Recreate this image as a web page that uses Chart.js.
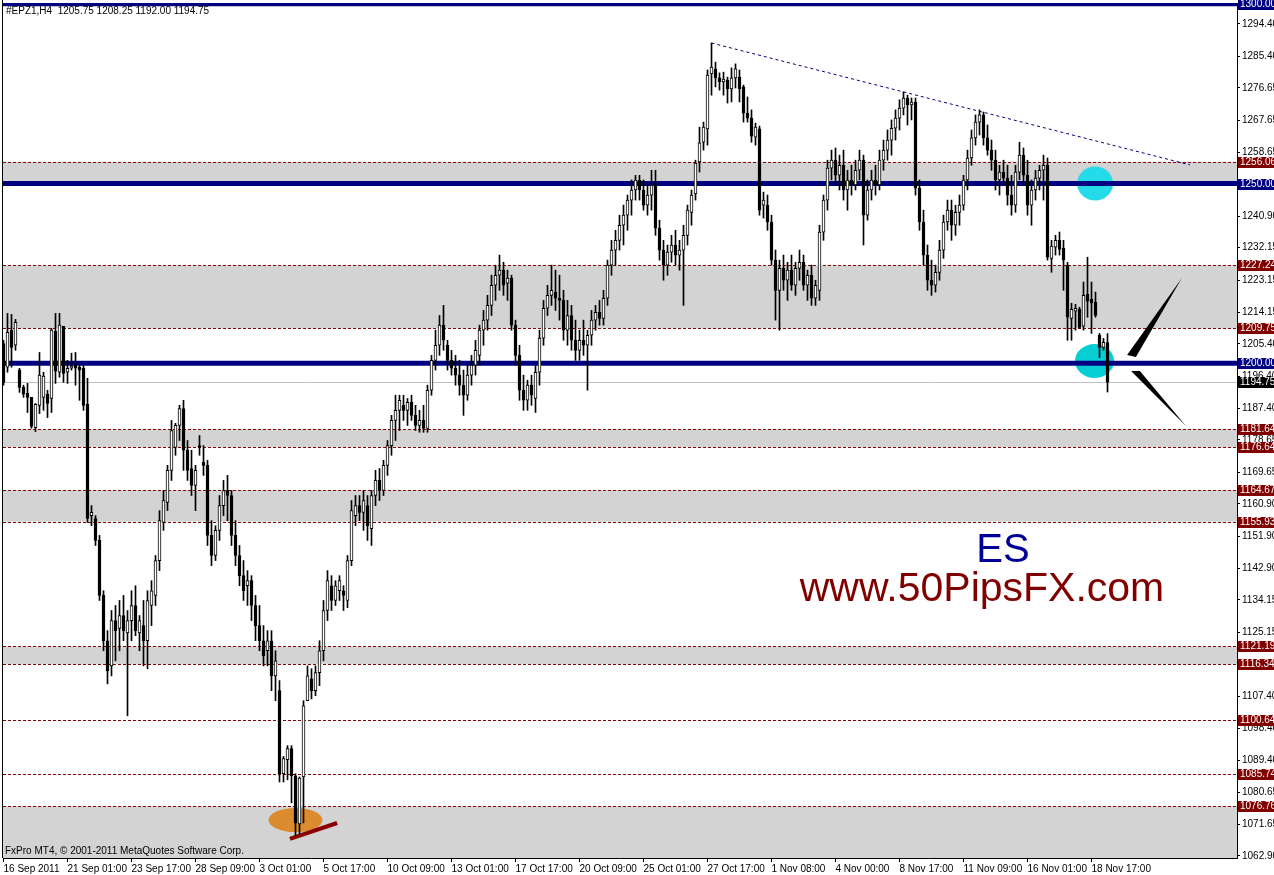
<!DOCTYPE html>
<html>
<head>
<meta charset="utf-8">
<title>#EPZ1,H4</title>
<script src="https://cdn.jsdelivr.net/npm/chart.js@4.4.0/dist/chart.umd.min.js"></script>
<style>
  html, body { margin: 0; padding: 0; background: #fff; }
  #wrap { position: relative; width: 1274px; height: 875px; }
</style>
</head>
<body>
<div id="wrap"><canvas id="esChart" width="1274" height="875"></canvas></div>
<script>
var symbolName = '#EPZ1,H4';

//H4 candles, oldest first
var opens = [
  1205.5,1198.9,1209.2,1205.0,1198.1,1193.3,1191.6,1190.5,1182.1,1188.3,
  1190.5,1191.4,1190.2,1208.9,1197.5,1210.3,1197.5,1198.6,1199.5,1198.9,
  1198.6,1188.6,1157.6,1156.8,1150.7,1135.4,1122.8,1115.8,1128.4,1126.2,
  1129.8,1125.0,1128.4,1132.6,1125.0,1127.0,1122.8,1132.6,1135.4,1145.1,
  1155.7,1161.3,1170.2,1176.6,1182.7,1187.4,1175.8,1170.7,1166.0,1177.1,
  1172.4,1171.6,1152.1,1146.5,1153.5,1160.4,1164.6,1163.2,1152.1,1146.5,
  1140.9,1138.1,1139.5,1132.6,1127.0,1122.8,1120.0,1122.8,1113.0,1108.9,
  1085.8,1089.7,1092.8,1085.2,1071.8,1084.9,1106.1,1112.2,1108.9,1113.9,
  1120.0,1131.2,1138.1,1134.0,1136.7,1136.7,1134.0,1145.1,1157.6,1160.4,
  1158.5,1160.4,1154.0,1163.2,1167.4,1164.6,1171.6,1177.1,1184.1,1186.9,
  1188.3,1186.9,1189.1,1185.5,1182.7,1184.1,1181.9,1192.5,1200.8,1205.0,
  1210.6,1205.0,1200.8,1198.6,1196.7,1193.9,1191.1,1196.7,1199.5,1202.2,
  1209.2,1212.0,1216.1,1221.7,1224.5,1225.9,1222.3,1223.7,1210.6,1202.2,
  1192.5,1189.7,1193.9,1190.2,1197.5,1207.0,1215.3,1218.9,1219.8,1218.1,
  1217.5,1209.2,1213.3,1206.4,1203.6,1206.4,1205.0,1207.8,1212.0,1214.2,
  1212.5,1218.1,1227.3,1231.5,1234.2,1238.4,1241.2,1245.4,1248.2,1251.0,
  1248.2,1244.0,1246.8,1249.6,1237.6,1231.5,1227.3,1230.9,1232.9,1230.1,
  1231.5,1235.6,1242.0,1247.1,1256.0,1261.5,1265.2,1280.5,1281.9,1279.4,
  1278.3,1278.8,1276.3,1279.4,1279.6,1276.9,1269.6,1268.2,1262.9,1265.2,
  1244.0,1244.0,1239.3,1228.7,1220.3,1226.4,1223.1,1225.9,1221.7,1226.4,
  1228.1,1221.7,1224.5,1218.1,1220.3,1236.5,1245.4,1254.3,1256.5,1252.3,
  1255.1,1248.2,1251.0,1249.6,1253.7,1256.5,1241.2,1248.2,1251.0,1249.6,
  1256.5,1259.3,1262.1,1265.4,1268.2,1271.0,1273.8,1271.9,1272.7,1248.7,
  1239.3,1230.1,1223.1,1221.7,1225.3,1231.5,1239.3,1242.6,1238.4,1242.0,
  1244.0,1251.0,1257.1,1262.7,1267.1,1269.1,1262.7,1259.3,1256.5,1251.0,
  1253.2,1251.5,1246.8,1244.0,1253.2,1257.9,1252.3,1244.0,1248.2,1251.5,
  1253.7,1255.1,1229.2,1232.3,1234.2,1232.0,1227.3,1212.5,1214.5,1215.0,
  1210.3,1219.2,1217.8,1217.0,1207.8,1204.4,1205.75
];
var highs = [
  1206.4,1213.9,1213.6,1212.2,1198.6,1193.9,1194.4,1190.5,1188.8,1203.0,
  1197.5,1192.5,1209.7,1213.9,1213.9,1210.3,1200.8,1202.8,1203.0,1199.5,
  1199.5,1195.8,1160.4,1157.6,1152.1,1136.7,1125.6,1131.2,1132.6,1134.0,
  1135.4,1131.2,1136.7,1138.1,1129.8,1134.0,1136.7,1139.5,1146.5,1159.0,
  1164.6,1171.6,1184.1,1183.3,1188.3,1189.7,1178.5,1175.8,1171.6,1179.9,
  1177.1,1173.0,1156.2,1154.8,1163.2,1167.4,1168.8,1164.6,1156.2,1149.3,
  1145.1,1142.3,1140.9,1135.4,1132.6,1127.0,1125.6,1125.6,1120.0,1111.7,
  1090.6,1093.6,1093.6,1085.8,1084.9,1106.1,1115.8,1115.0,1115.8,1122.8,
  1134.0,1142.3,1140.9,1139.5,1140.9,1138.1,1146.5,1161.8,1163.2,1163.2,
  1164.6,1163.2,1164.6,1170.2,1170.7,1173.0,1178.5,1185.5,1191.1,1191.1,
  1191.1,1190.2,1191.1,1188.3,1186.9,1188.3,1193.9,1202.2,1209.2,1213.3,
  1216.1,1206.4,1203.6,1202.2,1200.8,1198.1,1199.5,1202.2,1206.4,1210.6,
  1214.7,1218.9,1224.5,1227.3,1230.1,1228.1,1225.9,1224.5,1212.0,1205.0,
  1196.7,1195.3,1196.7,1199.5,1209.2,1217.5,1221.7,1227.3,1225.9,1224.5,
  1220.3,1217.5,1216.1,1212.0,1209.2,1212.0,1209.2,1214.7,1216.1,1217.5,
  1220.3,1228.7,1234.2,1237.0,1241.2,1244.0,1246.8,1251.0,1252.3,1252.3,
  1251.0,1249.6,1253.7,1253.7,1239.8,1234.2,1232.9,1235.6,1237.0,1234.2,
  1238.4,1244.0,1248.2,1256.5,1265.7,1267.1,1281.6,1289.1,1283.8,1280.8,
  1281.0,1279.6,1282.2,1283.3,1281.6,1277.4,1274.1,1270.5,1266.8,1266.0,
  1247.6,1246.8,1241.2,1231.5,1228.7,1230.1,1228.1,1230.1,1228.1,1231.5,
  1230.1,1225.9,1227.3,1223.1,1238.4,1246.8,1256.5,1259.3,1259.9,1257.9,
  1259.3,1253.7,1255.1,1256.5,1259.3,1257.9,1251.0,1253.7,1255.1,1259.3,
  1262.1,1264.9,1267.7,1270.5,1273.3,1275.5,1274.6,1273.8,1273.8,1251.0,
  1242.6,1232.9,1228.7,1227.3,1234.2,1241.2,1245.4,1245.4,1244.0,1246.8,
  1252.3,1259.3,1264.9,1269.1,1270.5,1269.9,1266.3,1262.1,1259.3,1255.1,
  1256.5,1255.1,1252.3,1255.1,1261.5,1259.9,1256.5,1251.0,1253.7,1255.1,
  1257.9,1257.1,1234.2,1235.6,1236.5,1234.2,1228.1,1216.7,1216.4,1215.6,
  1222.6,1229.5,1222.6,1219.8,1208.3,1206.9,1208.25
];
var lows = [
  1193.9,1197.5,1198.9,1203.6,1191.9,1190.5,1186.3,1181.9,1181.0,1186.0,
  1186.9,1184.9,1186.3,1194.4,1196.1,1194.7,1194.4,1198.1,1193.9,1189.7,
  1186.9,1155.7,1154.8,1149.3,1134.0,1120.0,1110.8,1113.0,1117.2,1120.0,
  1122.8,1101.9,1122.8,1124.2,1120.0,1115.8,1115.0,1127.0,1132.6,1142.3,
  1153.5,1159.0,1167.4,1174.4,1178.5,1170.2,1167.4,1163.2,1159.0,1174.4,
  1168.8,1149.3,1143.7,1145.1,1150.7,1157.6,1156.2,1149.3,1143.7,1138.1,
  1134.0,1132.6,1128.4,1122.8,1120.0,1115.8,1115.8,1108.9,1106.1,1083.5,
  1083.5,1084.1,1077.7,1068.5,1069.1,1072.1,1106.1,1106.6,1107.5,1110.3,
  1117.2,1128.4,1131.2,1132.6,1134.0,1131.2,1132.0,1143.7,1154.8,1156.2,
  1153.5,1150.7,1149.3,1160.4,1161.8,1163.2,1168.8,1174.4,1178.5,1181.3,
  1184.1,1182.7,1184.1,1181.3,1180.8,1180.8,1180.8,1191.1,1198.1,1202.2,
  1203.6,1198.1,1196.7,1193.9,1191.1,1185.5,1189.7,1193.9,1196.7,1199.5,
  1205.0,1209.2,1213.3,1217.5,1220.3,1218.9,1217.5,1209.2,1199.5,1189.7,
  1186.9,1186.9,1188.3,1186.3,1193.9,1205.0,1213.3,1216.1,1214.7,1212.0,
  1206.4,1205.0,1203.6,1200.8,1200.8,1202.2,1192.5,1205.0,1209.2,1210.6,
  1210.6,1216.1,1224.5,1227.3,1231.5,1232.9,1237.0,1241.2,1245.4,1245.4,
  1242.6,1241.2,1242.6,1235.6,1228.7,1223.1,1224.5,1228.1,1227.3,1225.9,
  1216.1,1232.9,1238.4,1245.4,1253.2,1259.3,1260.7,1274.6,1276.9,1276.0,
  1274.6,1272.4,1272.7,1276.6,1272.7,1267.1,1267.1,1261.5,1260.7,1241.2,
  1240.4,1237.0,1227.3,1212.0,1209.2,1220.3,1217.5,1220.3,1218.9,1223.1,
  1220.3,1217.5,1216.1,1216.1,1217.5,1234.2,1242.6,1251.0,1249.6,1248.2,
  1245.4,1242.6,1246.8,1248.2,1251.0,1232.9,1239.8,1245.4,1246.8,1248.2,
  1253.7,1256.5,1257.9,1262.1,1264.9,1269.1,1266.3,1267.7,1246.8,1237.0,
  1227.3,1220.3,1218.9,1219.8,1223.1,1229.2,1237.0,1234.2,1235.6,1238.4,
  1242.6,1248.2,1255.1,1260.7,1263.5,1260.7,1257.9,1253.7,1248.2,1246.8,
  1249.6,1244.0,1241.2,1242.0,1251.0,1249.6,1241.2,1238.4,1245.4,1248.2,
  1245.4,1228.7,1225.3,1230.1,1230.1,1220.3,1206.4,1206.4,1209.2,1209.7,
  1209.2,1212.8,1208.3,1212.8,1201.6,1203.6,1192.00
];
var closes = [
  1194.7,1208.6,1204.4,1211.4,1193.3,1191.4,1190.5,1182.4,1188.6,1196.7,
  1196.4,1188.8,1209.2,1197.8,1210.6,1197.2,1198.6,1199.2,1198.6,1198.1,
  1188.3,1156.8,1158.5,1150.7,1135.4,1122.8,1114.4,1128.4,1125.6,1129.8,
  1125.6,1128.4,1132.6,1125.6,1128.4,1122.8,1134.0,1136.7,1145.1,1156.2,
  1161.8,1170.2,1181.3,1182.7,1187.4,1175.8,1170.2,1166.0,1170.2,1176.6,
  1171.6,1152.1,1146.5,1153.5,1160.4,1164.6,1163.2,1152.1,1146.5,1140.9,
  1136.7,1139.5,1132.6,1127.0,1122.8,1118.6,1122.8,1113.0,1117.2,1085.8,
  1090.0,1092.8,1085.2,1072.1,1084.6,1104.7,1113.0,1108.9,1113.9,1120.0,
  1131.2,1139.5,1134.0,1138.1,1139.5,1135.4,1145.1,1159.0,1160.4,1158.5,
  1161.8,1154.8,1163.2,1167.4,1164.6,1171.6,1177.1,1184.1,1186.9,1189.7,
  1186.9,1189.1,1185.5,1182.7,1184.1,1181.9,1192.5,1200.8,1205.0,1210.6,
  1206.4,1200.8,1198.6,1196.7,1193.9,1191.1,1196.7,1199.5,1203.6,1209.2,
  1212.0,1216.1,1221.7,1224.5,1225.9,1221.7,1223.7,1210.6,1202.2,1192.5,
  1189.7,1193.9,1191.1,1197.5,1207.0,1215.3,1218.9,1220.3,1218.1,1217.5,
  1209.2,1213.3,1206.4,1203.6,1206.4,1205.0,1207.8,1212.0,1214.2,1212.5,
  1218.1,1227.3,1231.5,1234.2,1238.4,1241.2,1245.4,1248.2,1251.0,1248.2,
  1244.0,1246.8,1249.6,1237.6,1231.5,1227.3,1230.9,1232.9,1230.1,1231.5,
  1235.6,1242.6,1246.8,1255.7,1261.3,1265.7,1280.2,1282.4,1279.4,1278.3,
  1279.1,1276.3,1279.4,1281.9,1276.3,1269.6,1268.2,1263.2,1265.7,1242.6,
  1245.4,1239.3,1228.7,1220.3,1226.4,1223.1,1225.9,1221.7,1226.4,1228.1,
  1221.7,1224.5,1218.1,1221.7,1236.5,1245.4,1254.3,1256.5,1252.3,1255.1,
  1248.2,1251.0,1249.6,1253.7,1256.5,1241.2,1248.2,1251.0,1249.6,1256.5,
  1259.3,1262.1,1265.4,1268.2,1271.0,1273.8,1271.9,1272.7,1248.7,1239.3,
  1230.1,1223.1,1221.7,1225.3,1231.5,1239.3,1242.6,1238.4,1242.0,1244.0,
  1251.0,1257.1,1262.7,1267.1,1269.1,1262.7,1259.3,1256.5,1251.0,1253.2,
  1251.5,1246.8,1244.0,1253.2,1257.9,1252.3,1244.0,1248.2,1251.5,1253.7,
  1255.1,1229.5,1232.6,1234.2,1231.7,1228.7,1212.8,1215.0,1215.3,1210.0,
  1218.9,1217.3,1216.7,1213.3,1204.4,1205.8,1194.75
];

//time axis labels and the bar each one sits on
var timeLabels = ['16 Sep 2011', '21 Sep 01:00', '23 Sep 17:00', '28 Sep 09:00', '3 Oct 01:00', '5 Oct 17:00',
  '10 Oct 09:00', '13 Oct 01:00', '17 Oct 17:00', '20 Oct 09:00', '25 Oct 01:00', '27 Oct 17:00',
  '1 Nov 08:00', '4 Nov 00:00', '8 Nov 17:00', '11 Nov 09:00', '16 Nov 01:00', '18 Nov 17:00'];
var timeLabelBars = [0, 16, 32, 48, 64, 80, 96, 112, 128, 144, 160, 176, 192, 208, 224, 240, 256, 272];

//price scale ticks on the right
var priceTicks = [1294.40, 1285.40, 1276.65, 1267.65, 1258.65, 1249.90, 1240.90, 1232.15, 1223.15, 1214.15,
  1205.40, 1196.40, 1187.40, 1178.65, 1169.65, 1160.90, 1151.90, 1142.90, 1134.15, 1125.15, 1116.15,
  1107.40, 1098.40, 1089.40, 1080.65, 1071.65, 1062.90];

//drawn levels
var navyLevels = [1300.00, 1250.00, 1200.00];
var redLevels = [1256.06, 1227.24, 1209.75, 1181.64, 1176.64, 1164.67, 1155.93, 1121.19, 1116.34, 1100.64, 1085.74, 1076.76];
var zoneLows = [1250.00, 1209.75, 1176.64, 1155.93, 1116.34, 1040.00];
var zoneHighs = [1256.06, 1227.24, 1181.64, 1164.67, 1121.19, 1076.76];

//trend line over the highs: [bar, price]
var trendFrom = [177, 1289.1];
var trendTo = [296.6, 1255.2];

var bodies = [];
var wicks = [];
var bodyColors = [];
for (var i = 0; i < closes.length; i++) {
  bodies.push({ x: i, y: [opens[i], closes[i]] });
  wicks.push({ x: i, y: [lows[i], highs[i]] });
  bodyColors.push(closes[i] >= opens[i] ? '#ffffff' : '#000000');
}

var smallFont = "'Liberation Sans Narrow', 'Liberation Sans', Arial, sans-serif";

//draw everything MT4 puts on the chart besides the candles
var mt4Objects = {
  id: 'mt4Objects',
  beforeDatasetsDraw: function(chart) {
    var ctx = chart.ctx, a = chart.chartArea, xs = chart.scales.x, ys = chart.scales.y;
    var px = function(v) { return xs.getPixelForValue(v); };
    var py = function(v) { return ys.getPixelForValue(v); };

    ctx.save();
    ctx.beginPath();
    ctx.rect(a.left, a.top, a.right - a.left, a.bottom - a.top);
    ctx.clip();

    //grey zones
    ctx.fillStyle = '#d3d3d3';
    zoneLows.forEach(function(lo, k) {
      var top = py(zoneHighs[k]);
      ctx.fillRect(a.left, top, a.right - a.left, py(lo) - top);
    });

    //dashed maroon levels
    ctx.strokeStyle = '#8b0000';
    ctx.lineWidth = 1;
    ctx.setLineDash([3, 2]);
    redLevels.forEach(function(p) {
      var yy = Math.round(py(p)) + 0.5;
      ctx.beginPath(); ctx.moveTo(a.left, yy); ctx.lineTo(a.right, yy); ctx.stroke();
    });
    ctx.setLineDash([]);

    //bid line
    var bidY = Math.round(py(closes[closes.length - 1])) + 0.5;
    ctx.strokeStyle = '#c0c0c0';
    ctx.beginPath(); ctx.moveTo(a.left, bidY); ctx.lineTo(a.right, bidY); ctx.stroke();

    //ellipses
    ctx.fillStyle = '#dc8c2e';
    ctx.beginPath(); ctx.ellipse(px(73), py(1072.9), 27, 12, 0, 0, Math.PI * 2); ctx.fill();
    ctx.fillStyle = '#26dbe9';
    ctx.beginPath(); ctx.ellipse(px(272.9), py(1250.0), 18, 17, 0, 0, Math.PI * 2); ctx.fill();
    ctx.fillStyle = '#05cfd5';
    ctx.beginPath(); ctx.ellipse(px(272.75), py(1200.6), 19.5, 17, 0, 0, Math.PI * 2); ctx.fill();

    //thick navy levels
    ctx.strokeStyle = '#000080';
    ctx.lineWidth = 5;
    navyLevels.forEach(function(p) {
      var yy = py(p);
      ctx.beginPath(); ctx.moveTo(a.left, yy); ctx.lineTo(a.right, yy); ctx.stroke();
    });

    //trend line
    ctx.lineWidth = 1;
    ctx.setLineDash([3, 3]);
    ctx.beginPath();
    ctx.moveTo(px(trendFrom[0]), py(trendFrom[1]));
    ctx.lineTo(px(trendTo[0]), py(trendTo[1]));
    ctx.stroke();
    ctx.setLineDash([]);

    //black arrows
    ctx.fillStyle = '#000';
    ctx.beginPath();
    ctx.moveTo(px(280.9), py(1202.3)); ctx.lineTo(px(283.1), py(1201.74)); ctx.lineTo(px(294.6), py(1223.72));
    ctx.closePath(); ctx.fill();
    ctx.beginPath();
    ctx.moveTo(px(281.9), py(1197.85)); ctx.lineTo(px(284.1), py(1197.85)); ctx.lineTo(px(295.6), py(1182.54));
    ctx.closePath(); ctx.fill();

    //red stroke under the low
    ctx.strokeStyle = '#8b0000';
    ctx.lineWidth = 4;
    ctx.beginPath(); ctx.moveTo(px(71.6), py(1067.64)); ctx.lineTo(px(83.4), py(1072.08)); ctx.stroke();

    //watermark
    ctx.textAlign = 'center';
    ctx.textBaseline = 'alphabetic';
    ctx.fillStyle = '#000099';
    ctx.font = "40px 'Liberation Sans', Arial, sans-serif";
    ctx.fillText('ES', 1003, 562);
    ctx.fillStyle = '#800000';
    ctx.font = "41px 'Liberation Sans', Arial, sans-serif";
    ctx.fillText('www.50PipsFX.com', 982, 601);

    ctx.restore();
  },
  afterDraw: function(chart) {
    var ctx = chart.ctx, a = chart.chartArea, ys = chart.scales.y;
    ctx.save();

    //left frame line
    ctx.strokeStyle = '#000';
    ctx.lineWidth = 1;
    ctx.beginPath(); ctx.moveTo(a.left - 0.5, 0); ctx.lineTo(a.left - 0.5, a.bottom); ctx.stroke();

    //price boxes on the scale
    ctx.font = '10px ' + smallFont;
    ctx.textBaseline = 'middle';
    ctx.textAlign = 'left';
    var box = function(p, bg) {
      var yy = Math.round(ys.getPixelForValue(p));
      ctx.fillStyle = bg;
      ctx.fillRect(a.right + 1, yy - 5, 40, 11);
      ctx.fillStyle = '#fff';
      ctx.fillText(p.toFixed(2), a.right + 3, yy + 0.5);
    };
    redLevels.forEach(function(p) { box(p, '#800000'); });
    navyLevels.forEach(function(p) { box(p, '#000080'); });
    box(closes[closes.length - 1], '#000000');

    //header and copyright
    ctx.fillStyle = '#000';
    ctx.textBaseline = 'alphabetic';
    var last = closes.length - 1;
    ctx.fillText(symbolName + '  ' + opens[last].toFixed(2) + ' ' + highs[last].toFixed(2) + ' ' +
      lows[last].toFixed(2) + ' ' + closes[last].toFixed(2), 6, 14);
    ctx.fillText('FxPro MT4, \u00a9 2001-2011 MetaQuotes Software Corp.', 5, 854);

    ctx.restore();
  }
};

var esChart = new Chart(document.getElementById('esChart'), {
  type: 'bar',
  data: {
    datasets: [{
      label: 'body',
      data: bodies,
      backgroundColor: bodyColors,
      borderColor: '#000',
      borderWidth: 1,
      borderSkipped: false,
      barThickness: 3,
      minBarLength: 1,
      grouped: false
    }, {
      label: 'wick',
      data: wicks,
      backgroundColor: '#000',
      borderWidth: 0,
      barThickness: 1,
      grouped: false
    }]
  },
  options: {
    responsive: false,
    animation: false,
    events: [],
    layout: { padding: { left: 3, top: 3, right: 0, bottom: 0 } },
    plugins: { legend: { display: false }, tooltip: { enabled: false } },
    scales: {
      x: {
        type: 'linear',
        min: -0.125,
        max: 308.375,
        offset: false,
        grid: { drawOnChartArea: false, drawTicks: true, tickLength: 4, color: '#000', offset: false },
        border: { display: true, color: '#000' },
        ticks: {
          autoSkip: false,
          maxRotation: 0,
          align: 'start',
          padding: 1,
          color: '#000',
          font: { family: smallFont, size: 10 },
          callback: function(value, index) { return timeLabels[index]; }
        },
        afterBuildTicks: function(scale) {
          scale.ticks = timeLabelBars.map(function(b) { return { value: b }; });
        },
        afterFit: function(scale) {
          scale.height = 17;
          scale.paddingLeft = 0;
          scale.paddingRight = 0;
        }
      },
      y: {
        position: 'right',
        min: 1062.34,
        max: 1300.24,
        grid: { drawOnChartArea: false, drawTicks: true, tickLength: 3, color: '#000' },
        border: { display: true, color: '#000' },
        ticks: {
          padding: 2,
          color: '#000',
          font: { family: smallFont, size: 10 },
          callback: function(value) { return value.toFixed(2); }
        },
        afterBuildTicks: function(scale) {
          scale.ticks = priceTicks.map(function(p) { return { value: p }; });
        },
        afterFit: function(scale) {
          scale.width = 37;
          scale.paddingTop = 0;
          scale.paddingBottom = 0;
        }
      }
    }
  },
  plugins: [mt4Objects]
});
</script>
</body>
</html>
